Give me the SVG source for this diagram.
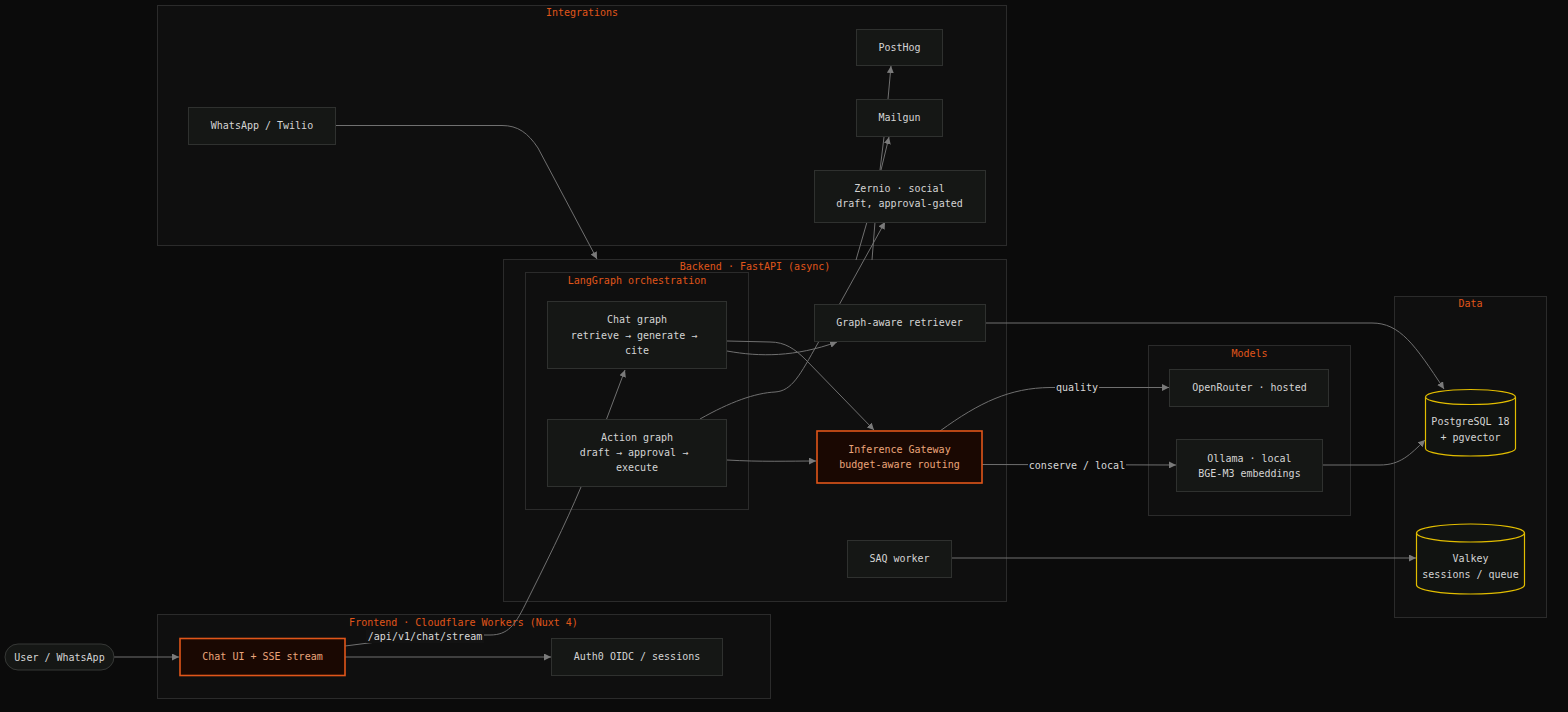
<svg xmlns="http://www.w3.org/2000/svg" width="1568" height="712" viewBox="0 0 1568 712">
<defs>
<marker id="arr" viewBox="0 0 10 10" refX="10" refY="5" markerWidth="7" markerHeight="7" markerUnits="userSpaceOnUse" orient="auto">
<path d="M0,0 L10,5 L0,10 z" fill="#7a7a7a"/>
</marker>
<style>
text{font-family:"DejaVu Sans Mono","Liberation Mono",monospace;font-size:10px;dominant-baseline:central;text-anchor:middle}
.cl{fill:#0f0f0f;stroke:#2b2b2b;stroke-width:1}
.ct{fill:#e0561a}
.nd{fill:#151715;stroke:#2f312f;stroke-width:1}
.nt{fill:#d4d4d4}
.hl{fill:#1a0802;stroke:#e0561a;stroke-width:1.6}
.ht{fill:#eaa57a}
.db{fill:#111311;stroke:#e2bd00;stroke-width:1.2}
.e{fill:none;stroke:#707070;stroke-width:1}
.ea{fill:none;stroke:#707070;stroke-width:1;marker-end:url(#arr)}
.lt{fill:#d8d8d8}
</style>
</defs>
<rect x="0" y="0" width="1568" height="712" fill="#0b0b0b"/>

<g id="clusters">
<g id="cluster-integrations"><rect class="cl" x="157.5" y="5.5" width="849" height="240"/><text class="ct" x="582" y="12.5">Integrations</text></g>
<g id="cluster-backend"><rect class="cl" x="503.5" y="259.5" width="503" height="342"/><text class="ct" x="755" y="266.5">Backend · FastAPI (async)</text></g>
<g id="cluster-langgraph"><rect class="cl" x="525.5" y="272.5" width="223" height="237"/><text class="ct" x="637" y="280.5">LangGraph orchestration</text></g>
<g id="cluster-frontend"><rect class="cl" x="157.5" y="614.5" width="613" height="84"/><text class="ct" x="463.5" y="622.5">Frontend · Cloudflare Workers (Nuxt 4)</text></g>
<g id="cluster-models"><rect class="cl" x="1148.5" y="345.5" width="202" height="170"/><text class="ct" x="1249.5" y="353">Models</text></g>
<g id="cluster-data"><rect class="cl" x="1394.5" y="296.5" width="152" height="321"/><text class="ct" x="1470.5" y="303">Data</text></g>
</g>

<g id="connectors">
<path class="ea" d="M114,657 L179,657"/>
<path class="ea" d="M345,657 L551,657"/>
<path class="ea" d="M345,646 L400,639 Q420,635 445,635 L490,635 C508,635 515,625 525,605 C545,565 565,525 581,487 L625,370"/>
<path class="ea" d="M335,125.5 L502,125.5 C518,125.5 528,133 538,148 L597,259"/>
<path class="ea" d="M727,351 C760,357 795,357 837,342"/>
<path class="ea" d="M727,341 L770,342 C785,342 795,349 806,360 L874,430"/>
<path class="ea" d="M727,460 C760,462 790,461 816,461"/>
<path class="ea" d="M700,419 C730,402 755,393 775,392 C792,391 800,375 818,343 L885,222"/>
<path class="ea" d="M856,260 L867,222 L881,170 L889,137"/>
<path class="ea" d="M872,260 L875,222 L880,170 L884,137 L888,99 L891,66"/>
<path class="ea" d="M985,323 L1372,323 C1400,323 1415,345 1444,389"/>
<path class="ea" d="M940,431 C980,402 1010,388 1050,387.5 L1169,387.5"/>
<path class="ea" d="M982,464.5 L1176,465"/>
<path class="ea" d="M1322,465 L1380,465 C1400,465 1410,455 1425,440"/>
<path class="ea" d="M951,558 L1416,558"/>
<g id="edge-labels">
<rect x="366" y="630" width="118" height="13" fill="#121212"/>
<text class="lt" x="425" y="636">/api/v1/chat/stream</text>
<rect x="1055" y="381" width="44" height="13" fill="#0b0b0b"/>
<text class="lt" x="1077" y="387.5">quality</text>
<rect x="1028" y="459" width="98" height="13" fill="#0b0b0b"/>
<text class="lt" x="1077" y="465.5">conserve / local</text>
</g>
</g>

<g id="nodes">
<g id="n-posthog"><rect class="nd" x="856.5" y="29.5" width="86" height="36"/><text class="nt" x="899.5" y="47.5">PostHog</text></g>
<g id="n-mailgun"><rect class="nd" x="856.5" y="99.5" width="86" height="37"/><text class="nt" x="899.5" y="117.5">Mailgun</text></g>
<g id="n-zernio"><rect class="nd" x="814.5" y="170.5" width="171" height="52"/><text class="nt" x="899.5" y="188.5">Zernio · social</text><text class="nt" x="899.5" y="203.5">draft, approval-gated</text></g>
<g id="n-whatsapp-twilio"><rect class="nd" x="188.5" y="107.5" width="147" height="37"/><text class="nt" x="262" y="125.5">WhatsApp / Twilio</text></g>
<g id="n-chat-graph"><rect class="nd" x="547.5" y="301.5" width="179" height="67"/><text class="nt" x="637" y="319.5">Chat graph</text><text class="nt" x="634" y="335.5">retrieve → generate →</text><text class="nt" x="637" y="350.5">cite</text></g>
<g id="n-action-graph"><rect class="nd" x="547.5" y="419.5" width="179" height="67"/><text class="nt" x="637" y="437.5">Action graph</text><text class="nt" x="634" y="452.5">draft → approval →</text><text class="nt" x="637" y="467.5">execute</text></g>
<g id="n-retriever"><rect class="nd" x="814.5" y="304.5" width="171" height="37"/><text class="nt" x="899.5" y="322.5">Graph-aware retriever</text></g>
<g id="n-inference"><rect class="hl" x="817" y="431" width="165" height="52"/><text class="ht" x="899.5" y="449.5">Inference Gateway</text><text class="ht" x="899.5" y="464.5">budget-aware routing</text></g>
<g id="n-saq"><rect class="nd" x="847.5" y="540.5" width="104" height="37"/><text class="nt" x="899.5" y="558.5">SAQ worker</text></g>
<g id="n-openrouter"><rect class="nd" x="1169.5" y="369.5" width="159" height="37"/><text class="nt" x="1249.5" y="387.5">OpenRouter · hosted</text></g>
<g id="n-ollama"><rect class="nd" x="1176.5" y="439.5" width="146" height="52"/><text class="nt" x="1249.5" y="458">Ollama · local</text><text class="nt" x="1249.5" y="473">BGE-M3 embeddings</text></g>
<g id="n-postgres"><path class="db" d="M1425.5,397 A45,7.5 0 0 1 1515.5,397 L1515.5,448.5 A45,7.5 0 0 1 1425.5,448.5 Z"/><path class="db" d="M1425.5,397 A45,7.5 0 0 0 1515.5,397" fill="none"/><text class="nt" x="1470.5" y="421.5">PostgreSQL 18</text><text class="nt" x="1470.5" y="437.5">+ pgvector</text></g>
<g id="n-valkey"><path class="db" d="M1416.5,533 A54,9 0 0 1 1524.5,533 L1524.5,585 A54,9 0 0 1 1416.5,585 Z"/><path class="db" d="M1416.5,533 A54,9 0 0 0 1524.5,533" fill="none"/><text class="nt" x="1470.5" y="558.5">Valkey</text><text class="nt" x="1470.5" y="574.5">sessions / queue</text></g>
<g id="n-user"><rect class="nd" x="5" y="644" width="109" height="26" rx="13" ry="13" style="stroke:#363836"/><text class="nt" x="59.5" y="657">User / WhatsApp</text></g>
<g id="n-chat-ui"><rect class="hl" x="180" y="638.5" width="165" height="37"/><text class="ht" x="262.5" y="656.5">Chat UI + SSE stream</text></g>
<g id="n-auth0"><rect class="nd" x="551.5" y="638.5" width="171" height="37"/><text class="nt" x="637" y="656.5">Auth0 OIDC / sessions</text></g>
</g>
</svg>
